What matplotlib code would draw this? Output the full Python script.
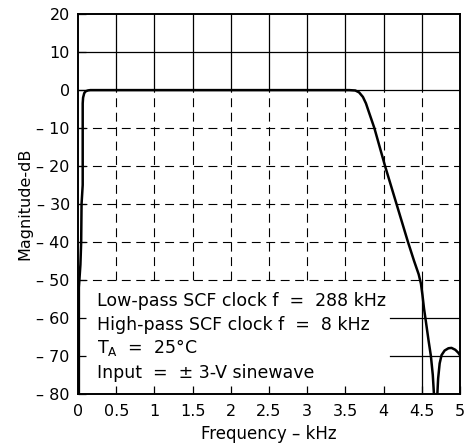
import matplotlib
matplotlib.use("Agg")
import matplotlib.pyplot as plt

# response curve
freq_main = [0.01, 0.01, 0.03, 0.04, 0.045, 0.06, 0.06, 0.06, 0.065, 0.08, 0.10, 0.13,
             0.16, 0.3, 3.55, 3.63, 3.68, 3.73, 3.77, 3.80, 3.88, 4.02, 4.17,
             4.32, 4.40, 4.46, 4.49, 4.51, 4.53, 4.555, 4.59, 4.62, 4.645, 4.66]
mag_main = [-80, -52, -46, -40, -30, -25, -10, -3.5, -2, -0.8, -0.3, -0.08,
            0, 0, 0, -0.1, -0.6, -1.8, -3.5, -5.3, -10, -20, -30,
            -40, -45, -48.5, -51, -54, -57.5, -61, -66, -70, -75, -80]
freq_lobe = [4.705, 4.715, 4.735, 4.76, 4.80, 4.85, 4.89, 4.94, 4.98, 5.0]
mag_lobe = [-80, -76, -72, -69.8, -68.6, -68.0, -67.9, -68.4, -69.2, -69.8]

x_ticks = [0, 0.5, 1, 1.5, 2, 2.5, 3, 3.5, 4, 4.5, 5]
x_labels = ["0", "0.5", "1", "1.5", "2", "2.5", "3", "3.5", "4", "4.5", "5"]
y_ticks = [20, 10, 0, -10, -20, -30, -40, -50, -60, -70, -80]
y_labels = ["20", "10", "0", "\u2013 10", "\u2013 20", "\u2013 30", "\u2013 40",
            "\u2013 50", "\u2013 60", "\u2013 70", "\u2013 80"]

notes = ["Low-pass SCF clock f  =  288 kHz",
         "High-pass SCF clock f  =  8 kHz",
         "T$_\\mathregular{A}$  =  25\u00b0C",
         "Input  =  \u00b1 3-V sinewave"]
note_y = [-55.5, -61.8, -67.9, -74.5]

plt.rcParams['font.family'] = ['DejaVu Sans']
fig = plt.figure(figsize=(4.65, 4.43), dpi=100)
ax = fig.add_axes([0.168, 0.111, 0.821, 0.857])
ax.set_xlim(0, 5)
ax.set_ylim(-80, 20)

gc = 'black'
# upper grid, solid
for y in [10, 0]:
    ax.plot([0, 5], [y, y], color=gc, lw=0.9, zorder=1)
for x in x_ticks[1:-1]:
    ax.plot([x, x], [0, 20], color=gc, lw=0.9, zorder=1)
# lower grid, broken
for y in [-10, -20, -30, -40, -50]:
    ax.plot([0, 5], [y, y], color=gc, lw=0.8, ls=(0, (8, 5)), zorder=1)
for x in x_ticks[1:-1]:
    ax.plot([x, x], [-50, 0], color=gc, lw=0.8, ls=(0, (8, 5)), zorder=1)
# short pieces right of the note box
for y in [-60, -70]:
    ax.plot([4.08, 5], [y, y], color=gc, lw=0.9, zorder=1)
ax.plot([4.5, 4.5], [-80, -50], color=gc, lw=0.9, zorder=1)

ax.plot(freq_main, mag_main, color='black', lw=1.8, zorder=3)
ax.plot(freq_lobe, mag_lobe, color='black', lw=1.8, zorder=3)

for t, y in zip(notes, note_y):
    ax.text(0.25, y, t, fontsize=12.5, va='center', ha='left', zorder=4)

ax.set_xticks(x_ticks)
ax.set_xticklabels(x_labels, fontsize=11.5)
ax.set_yticks(y_ticks)
ax.set_yticklabels(y_labels, fontsize=11.5)
ax.tick_params(direction='in', length=6, width=0.9, pad=6)
ax.tick_params(axis='x', pad=7)
for s in ax.spines.values():
    s.set_linewidth(1.4)

ax.set_xlabel("Frequency \u2013 kHz", fontsize=12, labelpad=5)
ax.set_ylabel("Magnitude-dB", fontsize=11.5, labelpad=3)

fig.savefig("out.png", dpi=100)
